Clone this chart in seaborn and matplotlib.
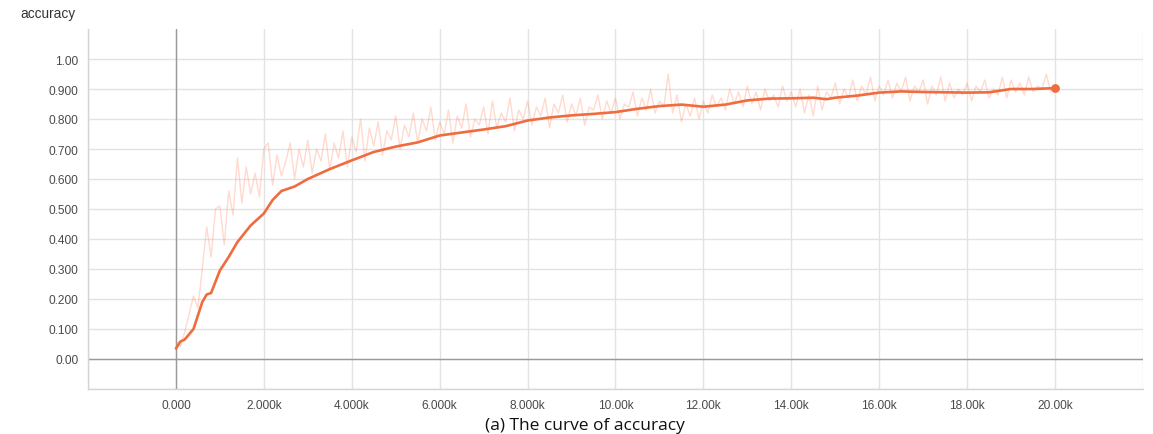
import numpy as np
import pandas as pd
import matplotlib
matplotlib.use("Agg")
import matplotlib.pyplot as plt
import seaborn as sns

# ---- data -------------------------------------------------------------
# raw accuracy logged every 100 steps (0 .. 20000)
raw_steps = list(range(0, 20001, 100))
raw_acc = [
    0.06, 0.04, 0.09, 0.15, 0.21, 0.17, 0.30, 0.44, 0.34, 0.50,
    0.51, 0.38, 0.56, 0.48, 0.67, 0.52, 0.64, 0.55, 0.62, 0.54,
    0.70, 0.72, 0.58, 0.68, 0.61, 0.66, 0.72, 0.60, 0.70, 0.64,
    0.73, 0.62, 0.70, 0.66, 0.75, 0.63, 0.72, 0.67, 0.76, 0.64,
    0.74, 0.69, 0.80, 0.66, 0.77, 0.71, 0.79, 0.68, 0.76, 0.73,
    0.81, 0.70, 0.78, 0.74, 0.82, 0.72, 0.80, 0.76, 0.84, 0.73,
    0.79, 0.75, 0.83, 0.72, 0.81, 0.77, 0.85, 0.74, 0.80, 0.78,
    0.84, 0.75, 0.86, 0.77, 0.82, 0.79, 0.87, 0.76, 0.83, 0.80,
    0.86, 0.78, 0.84, 0.81, 0.87, 0.77, 0.85, 0.82, 0.88, 0.79,
    0.85, 0.81, 0.87, 0.78, 0.84, 0.83, 0.88, 0.80, 0.86, 0.82,
    0.87, 0.80, 0.85, 0.84, 0.89, 0.81, 0.87, 0.83, 0.90, 0.82,
    0.86, 0.84, 0.95, 0.82, 0.88, 0.79, 0.85, 0.81, 0.87, 0.80,
    0.86, 0.82, 0.88, 0.84, 0.87, 0.83, 0.90, 0.85, 0.89, 0.84,
    0.91, 0.85, 0.89, 0.83, 0.90, 0.86, 0.88, 0.84, 0.91, 0.86,
    0.89, 0.84, 0.90, 0.82, 0.88, 0.81, 0.91, 0.83, 0.89, 0.87,
    0.92, 0.85, 0.90, 0.87, 0.93, 0.86, 0.91, 0.88, 0.94, 0.86,
    0.91, 0.88, 0.93, 0.87, 0.92, 0.89, 0.94, 0.86, 0.91, 0.89,
    0.93, 0.85, 0.91, 0.88, 0.94, 0.86, 0.92, 0.87, 0.90, 0.88,
    0.92, 0.86, 0.91, 0.89, 0.93, 0.87, 0.90, 0.88, 0.94, 0.87,
    0.93, 0.89, 0.92, 0.88, 0.94, 0.89, 0.91, 0.90, 0.95, 0.89,
    0.91,
]

# smoothed accuracy curve
smooth_steps = [0, 100, 200, 400, 600, 700, 800, 1000, 1200, 1400, 1700,
                2000, 2200, 2400, 2700, 3000, 3500, 4000, 4500, 5000, 5500,
                6000, 6500, 7000, 7500, 8000, 8500, 9000, 9500, 10000,
                10500, 11000, 11500, 12000, 12500, 13000, 13500, 14000,
                14500, 14800, 15000, 15500, 16000, 16500, 17000, 17500,
                18000, 18500, 19000, 19500, 20000]
smooth_acc = [0.035, 0.058, 0.065, 0.100, 0.190, 0.215, 0.220, 0.295, 0.340,
              0.390, 0.445, 0.485, 0.530, 0.560, 0.575, 0.600, 0.633, 0.662,
              0.690, 0.708, 0.722, 0.745, 0.755, 0.765, 0.776, 0.795, 0.805,
              0.812, 0.817, 0.823, 0.834, 0.843, 0.848, 0.841, 0.848, 0.862,
              0.868, 0.869, 0.871, 0.866, 0.871, 0.878, 0.888, 0.892, 0.890,
              0.889, 0.888, 0.889, 0.900, 0.900, 0.903]

x_ticks = [0, 2000, 4000, 6000, 8000, 10000, 12000, 14000, 16000, 18000, 20000]
x_labels = ["0.000", "2.000k", "4.000k", "6.000k", "8.000k", "10.00k",
            "12.00k", "14.00k", "16.00k", "18.00k", "20.00k"]
y_ticks = [0.0, 0.1, 0.2, 0.3, 0.4, 0.5, 0.6, 0.7, 0.8, 0.9, 1.0]
y_labels = ["0.00", "0.100", "0.200", "0.300", "0.400", "0.500", "0.600",
            "0.700", "0.800", "0.900", "1.00"]

raw_df = pd.DataFrame({"step": raw_steps, "acc": raw_acc})
smooth_df = pd.DataFrame({"step": smooth_steps, "acc": smooth_acc})

# ---- figure -----------------------------------------------------------
sns.set_theme(style="white")
plt.rcParams["font.family"] = ["Liberation Sans", "DejaVu Sans"]

ORANGE = "#ef6c3e"
GRID = "#e3e3e3"
AXIS = "#9a9a9a"
TEXT = "#4a4a4a"

fig = plt.figure(figsize=(11.53, 4.35), dpi=100)
ax = fig.add_axes([88 / 1153, 1 - 390 / 435, 1055 / 1153, 360 / 435])

sns.lineplot(data=raw_df, x="step", y="acc", ax=ax, color="#ff7a50",
             alpha=0.28, linewidth=1.0, zorder=3)
sns.lineplot(data=smooth_df, x="step", y="acc", ax=ax, color=ORANGE,
             linewidth=1.9, zorder=4)
ax.scatter([smooth_steps[-1]], [smooth_acc[-1]], s=40, color=ORANGE,
           zorder=5, linewidths=0)

ax.set_xlim(-2000, 22000)
ax.set_ylim(-0.1, 1.1)

# grid every 2k / 0.1, labels only on the data range
grid_x = list(range(-2000, 22001, 2000))
grid_y = [round(-0.1 + 0.1 * i, 1) for i in range(12)]
ax.set_xticks(grid_x)
ax.set_xticklabels([x_labels[x_ticks.index(v)] if v in x_ticks else ""
                    for v in grid_x])
ax.set_yticks(grid_y)
ax.set_yticklabels([y_labels[y_ticks.index(v)] if v in y_ticks else ""
                    for v in grid_y])
ax.grid(True, color=GRID, linewidth=1.0, zorder=0)
ax.tick_params(axis="both", length=4, width=1.0, color=GRID,
               labelsize=8.6, labelcolor=TEXT)
ax.tick_params(axis="x", pad=3)
ax.tick_params(axis="y", pad=3)

ax.axvline(0, color=AXIS, linewidth=1.0, zorder=1)
ax.axhline(0, color=AXIS, linewidth=1.0, zorder=1)

for side in ("top", "right"):
    ax.spines[side].set_visible(False)
for side in ("left", "bottom"):
    ax.spines[side].set_color("#d5d5d5")
    ax.spines[side].set_linewidth(1.0)

ax.set_xlabel("")
ax.set_ylabel("")

fig.text(20 / 1153, 1 - 14 / 435, "accuracy", fontsize=9.8, color="#333333",
         ha="left", va="center")
fig.text(585 / 1153, 1 - 426 / 435, "(a) The curve of accuracy",
         fontsize=12.5, color="#111111", ha="center", va="center",
         family=["Open Sans", "DejaVu Sans"])

fig.savefig("out.png", dpi=100, facecolor="white")
